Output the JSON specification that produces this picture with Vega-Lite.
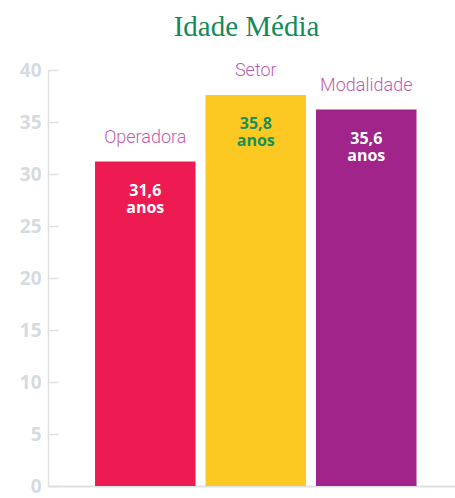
{
  "$schema": "https://vega.github.io/schema/vega-lite/v6.json",
  "autosize": {"type": "none"},
  "width": 407,
  "height": 416,
  "padding": {"left": 48, "top": 70, "right": 0, "bottom": 12},
  "background": "white",
  "title": {
    "text": "Idade Média",
    "font": "Liberation Serif",
    "fontSize": 29,
    "fontWeight": "normal",
    "color": "#138a57",
    "anchor": "middle",
    "frame": "group",
    "offset": 19,
    "dx": -5
  },
  "data": {
    "values": [
      {"cat": "Operadora", "value": 31.2, "label": "31,6\nanos"},
      {"cat": "Setor", "value": 37.6, "label": "35,8\nanos"},
      {"cat": "Modalidade", "value": 36.2, "label": "35,6\nanos"}
    ]
  },
  "encoding": {
    "x": {
      "field": "cat",
      "type": "nominal",
      "sort": null,
      "scale": {"paddingInner": 0.0905, "paddingOuter": 0.387, "align": 0.55},
      "axis": {
        "title": null,
        "labels": false,
        "ticks": false,
        "domain": true,
        "domainColor": "#dde1e3",
        "domainWidth": 2
      }
    },
    "y": {
      "field": "value",
      "type": "quantitative",
      "scale": {"domain": [0, 40], "nice": false},
      "axis": {
        "title": null,
        "values": [0, 5, 10, 15, 20, 25, 30, 35, 40],
        "grid": false,
        "domainColor": "#dde1e3",
        "domainWidth": 1.5,
        "tickColor": "#dde1e3",
        "tickWidth": 1.5,
        "tickSize": -10,
        "labelPadding": 17,
        "labelFont": "Open Sans",
        "labelFontWeight": "bold",
        "labelFontSize": 19,
        "labelColor": "#d6dbde"
      }
    }
  },
  "layer": [
    {
      "mark": {"type": "bar"},
      "encoding": {
        "color": {
          "field": "cat",
          "type": "nominal",
          "scale": {"domain": ["Operadora", "Setor", "Modalidade"], "range": ["#ed1b51", "#fcc923", "#a0248a"]},
          "legend": null
        }
      }
    },
    {
      "mark": {"type": "text", "dy": -24, "baseline": "middle", "font": "Roboto", "fontWeight": 300, "fontSize": 18, "color": "#c25ab2"},
      "encoding": {"text": {"field": "cat"}}
    },
    {
      "mark": {"type": "text", "dy": 34, "baseline": "alphabetic", "lineBreak": "\n", "lineHeight": 17, "font": "Open Sans", "fontWeight": "bold", "fontSize": 16},
      "encoding": {
        "text": {"field": "label"},
        "color": {"condition": {"test": "datum.cat === 'Setor'", "value": "#17905a"}, "value": "#ffffff"}
      }
    }
  ],
  "config": {"view": {"stroke": null}}
}
